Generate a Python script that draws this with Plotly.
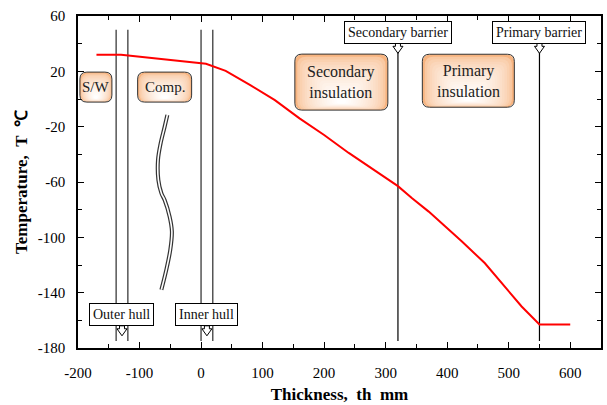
import plotly.graph_objects as go

# ---------------- data ----------------
thickness = [-170, -130, 8, 40, 80, 120, 160, 200, 240, 280, 320, 343, 370, 397, 424, 461, 494, 521, 550, 600]
temperature = [32, 32, 25.5, 20.3, 10, -0.8, -14, -26, -39, -51, -63, -71.7, -81.4, -92.2, -103, -118.6, -135.5, -150, -163, -163]

hull_x = [-138, -119, 0, 19]
hull_y_range = [-175, 50]
barrier_x = [320, 550]
barrier_y_range = [-175, 34]

comp_x = [-54.8, -59.2, -65.7, -70, -69.4, -64.5, -59.2, -51.1, -47.4, -50, -56.5, -64.5]
comp_y = [-11.6, -20.1, -32.1, -44.1, -58.5, -68.1, -73, -85, -95.8, -109, -123.5, -137.9]

x_tickvals = [-200, -100, 0, 100, 200, 300, 400, 500, 600]
x_ticktext = ["-200", "-100", "0", "100", "200", "300", "400", "500", "600"]
y_tickvals = [-180, -140, -100, -60, -20, 20, 60]
y_ticktext = ["-180", "-140", "-100", "-60", "-20", "20", "60"]

callout_labels = ["Secondary barrier", "Primary barrier", "Outer hull", "Inner hull"]
callout_x = [320, 550, -128.5, 9.5]
callout_y = [48.2, 48.2, -156, -156]

region_labels = ["S/W", "Comp.", "Secondary<br>insulation", "Primary<br>insulation"]
region_x = [-170.9, -59.2, 228, 434.4]
region_y = [8.6, 8.6, 12.2, 13.2]
region_w = [32, 54, 93, 92]
region_h = [30, 30, 56, 53]
region_font = [15, 15, 16, 16]

FONT = "Liberation Serif"

fig = go.Figure()

# comp squiggle (double line)
fig.add_trace(go.Scatter(x=comp_x, y=comp_y, mode="lines", line=dict(color="#333333", width=4, shape="spline"),
                         hoverinfo="skip", showlegend=False))
fig.add_trace(go.Scatter(x=comp_x, y=comp_y, mode="lines", line=dict(color="white", width=1.6, shape="spline"),
                         hoverinfo="skip", showlegend=False))

# hull lines
for hx in hull_x:
    fig.add_trace(go.Scatter(x=[hx, hx], y=hull_y_range, mode="lines",
                             line=dict(color="#555555", width=1.5), hoverinfo="skip", showlegend=False))
# barrier lines
for bx in barrier_x:
    fig.add_trace(go.Scatter(x=[bx, bx], y=barrier_y_range, mode="lines",
                             line=dict(color="black", width=1.2), hoverinfo="skip", showlegend=False))

# temperature profile
fig.add_trace(go.Scatter(x=thickness, y=temperature, mode="lines",
                         line=dict(color="#ff0000", width=2), showlegend=False))


def rrect(x0, y0, x1, y1, r):
    r = max(0.5, min(r, (x1 - x0) / 2, (y1 - y0) / 2))
    return (f"M{x0 + r},{y0} L{x1 - r},{y0} Q{x1},{y0} {x1},{y0 + r} "
            f"L{x1},{y1 - r} Q{x1},{y1} {x1 - r},{y1} L{x0 + r},{y1} "
            f"Q{x0},{y1} {x0},{y1 - r} L{x0},{y0 + r} Q{x0},{y0} {x0 + r},{y0} Z")


shapes = []
edge = (247, 180, 128)
n = 18
for cx, cy, w, h in zip(region_x, region_y, region_w, region_h):
    for i in range(n):
        t = i / (n - 1)
        ix = t * 0.45 * w
        itop = t * 0.80 * h
        ibot = t * 0.12 * h
        x0, x1 = -w / 2 + ix, w / 2 - ix
        y0, y1 = -h / 2 + ibot, h / 2 - itop
        f = min(1.0, t ** 0.45)
        col = tuple(int(round(edge[k] + (255 - edge[k]) * f)) for k in range(3))
        shapes.append(dict(type="path", xref="x", yref="y", xsizemode="pixel", ysizemode="pixel",
                           xanchor=cx, yanchor=cy, path=rrect(x0, y0, x1, y1, 7 * (1 - t) + 2),
                           fillcolor=f"rgb{col}", line=dict(width=0), layer="above"))
    shapes.append(dict(type="path", xref="x", yref="y", xsizemode="pixel", ysizemode="pixel",
                       xanchor=cx, yanchor=cy, path=rrect(-w / 2, -h / 2, w / 2, h / 2, 7),
                       fillcolor="rgba(0,0,0,0)", line=dict(color="#333333", width=1), layer="above"))

# hollow arrows below callout boxes (pixel offsets from box centre)
arrow_path = "M-2.5,-11 L-2.5,-14 L-5,-14 L0,-21 L5,-14 L2.5,-14 L2.5,-11 Z"
for cx, cy in zip(callout_x, callout_y):
    shapes.append(dict(type="path", xref="x", yref="y", xsizemode="pixel", ysizemode="pixel",
                       xanchor=cx, yanchor=cy, path=arrow_path,
                       fillcolor="white", line=dict(color="black", width=1), layer="above"))

annotations = []
for txt, cx, cy, fs in zip(region_labels, region_x, region_y, region_font):
    annotations.append(dict(x=cx, y=cy, xref="x", yref="y", text=txt, showarrow=False,
                            font=dict(family=FONT, size=fs, color="#222222"), align="center"))
for txt, cx, cy in zip(callout_labels, callout_x, callout_y):
    annotations.append(dict(x=cx, y=cy, xref="x", yref="y", text=txt, showarrow=False,
                            font=dict(family=FONT, size=14, color="#111111"), bgcolor="white",
                            bordercolor="black", borderwidth=1, borderpad=3))

fig.update_layout(
    width=607, height=405,
    margin=dict(l=78, r=4, t=16, b=57),
    paper_bgcolor="white", plot_bgcolor="white",
    font=dict(family=FONT, size=15, color="black"),
    shapes=shapes, annotations=annotations,
    showlegend=False,
)
fig.update_xaxes(range=[-200, 650], tickvals=x_tickvals, ticktext=x_ticktext,
                 ticks="inside", ticklen=6, tickwidth=1.2, tickcolor="black",
                 minor=dict(ticks="inside", dtick=50, ticklen=4, tickcolor="black"),
                 showline=True, linecolor="black", linewidth=1.6, mirror="allticks",
                 showgrid=False, zeroline=False, ticklabelstandoff=10,
                 tickfont=dict(family=FONT, size=15),
                 title=dict(text="<b>Thickness,\u00a0\u00a0th\u00a0\u00a0mm</b>", font=dict(family=FONT, size=17), standoff=8))
fig.update_yaxes(range=[-180, 60], tickvals=y_tickvals, ticktext=y_ticktext,
                 ticks="inside", ticklen=6, tickwidth=1.2, tickcolor="black",
                 minor=dict(ticks="inside", dtick=20, ticklen=4, tickcolor="black"),
                 showline=True, linecolor="black", linewidth=1.6, mirror="allticks",
                 showgrid=False, zeroline=False, ticklabelstandoff=8,
                 tickfont=dict(family=FONT, size=15),
                 title=dict(text="<b>Temperature,\u00a0\u00a0T\u00a0\u00a0\u2103</b>", font=dict(family=FONT, size=17), standoff=6))

fig.write_html("out.html")
